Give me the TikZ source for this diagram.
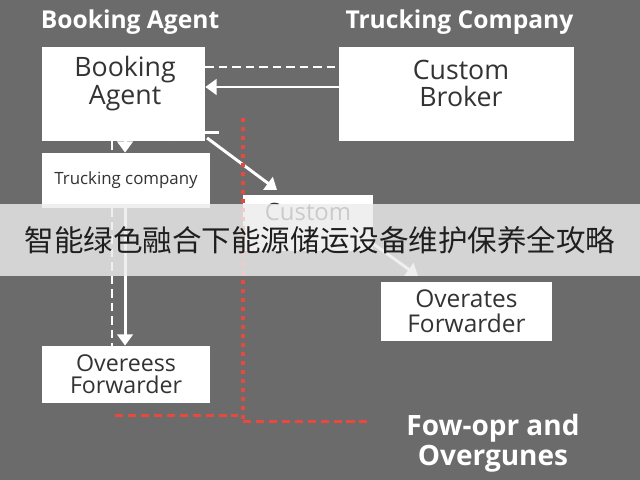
\documentclass[tikz,border=0pt]{standalone}
\usepackage{fontspec}
\setmainfont{Open Sans}
\newfontfamily\cjkfont{Noto Sans CJK SC}
\usetikzlibrary{shapes,arrows.meta}

\definecolor{bggray}{HTML}{6B6B6B}
\definecolor{boxtext}{HTML}{333333}
\definecolor{dotred}{HTML}{E8483E}
\definecolor{bandgray}{HTML}{ECECEC}

\tikzset{
  box/.style={shape=rectangle,fill=white,align=center,text=boxtext,inner sep=0pt},
  boxlabel/.style={align=center,text=boxtext,inner sep=0pt,font=\fontsize{19}{19.5}\selectfont},
  heading/.style={text=white,align=center,inner sep=0pt,font=\bfseries\fontsize{17.5}{21}\selectfont},
  flow/.style={draw=white,line width=2.1pt,-{Triangle[width=11pt,length=8pt]}},
  link/.style={draw=white,line width=1.8pt,dash pattern=on 6pt off 3.6pt},
  reddots/.style={draw=dotred,line width=2.4pt,dash pattern=on 3pt off 3.4pt},
  reddash/.style={draw=dotred,line width=2.2pt,dash pattern=on 5.7pt off 3.5pt},
  banner/.style={fill=bandgray,fill opacity=0.82,text opacity=1,text=black!88,minimum width=16cm,minimum height=1.8cm,inner sep=0pt,font=\cjkfont\fontsize{21}{21}\selectfont}
}

\begin{document}
\begin{tikzpicture}[x=0.025cm,y=-0.025cm]
\fill[bggray] (0,0) rectangle (640,480);

% headings
\node[heading] (hba) at (130,22) {Booking Agent};
\node[heading] (htc) at (459.5,22) {Trucking Company};

% boxes
\node[box,minimum width=4.075cm,minimum height=2.35cm] (ba) at (123.5,94) {};
\node[boxlabel] (batext) at (125,83.5) {Booking\\Agent};
\node[box,minimum width=5.875cm,minimum height=2.35cm] (cb) at (456.5,94) {};
\node[boxlabel] (cbtext) at (461,83.5) {Custom\\Broker};
\node[box,minimum width=4.2cm,minimum height=1.375cm,font=\fontsize{12}{14}\selectfont] (tc) at (126,180.5) {Trucking company};
\node[box,minimum width=3.25cm,minimum height=1.4cm] (cu) at (308,223) {};
\node[box,font=\fontsize{17}{18}\selectfont] (cutext) at (308,212) {Custom};
\node[box,minimum width=4.275cm,minimum height=1.475cm,font=\fontsize{17.4}{17.8}\selectfont] (oa) at (466.5,311.5) {Overates\\Forwarder};
\node[box,minimum width=4.2cm,minimum height=1.425cm,font=\fontsize{16.5}{16}\selectfont] (of) at (126,374.5) {Overeess\\Forwarder};

\node[heading,font=\bfseries\fontsize{19.9}{21.3}\selectfont] (fo) at (493,443) {Fow-opr and\\Overgunes};

% free ends
\coordinate (fork) at (219,133);
\coordinate (forktip) at (160,133);
\coordinate (diag) at (207,138);
\coordinate (diagtip) at (277,190);
\coordinate (cuout) at (372,243);
\coordinate (oatip) at (418,276);
\coordinate (rtop) at (243,118);
\coordinate (rcorner) at (243,422);
\coordinate (rright) at (372,422);
\coordinate (rleft) at (115,416);
\coordinate (rleftend) at (238,416);

% connectors
\path [link] (ba.east |- 0,67) edge (cb.west |- 0,67);
\draw [flow] (cb.west |- 0,87) -- (ba.east |- 0,87);
\draw [link] (ba.south -| 112,0) -- (tc.north -| 112,0);
\draw [flow] (ba.south -| 125,0) -- (tc.north -| 125,0);
\draw [link] (tc.south -| 112,0) -- (of.north -| 112,0);
\draw [flow] (tc.south -| 125,0) -- (of.north -| 125,0);
\draw [flow] (fork) -- (forktip);
\draw [flow] (diag) -- (diagtip);
\draw [flow] (cuout) -- (oatip);

% red borders
\draw [reddots] (rtop) -- (rcorner);
\draw [reddash] (rcorner) -- (rright);
\draw [reddash] (rleft) -- (rleftend);

% overlay band
\node[banner] (band) at (320,240) {智能绿色融合下能源储运设备维护保养全攻略};
\end{tikzpicture}
\end{document}
